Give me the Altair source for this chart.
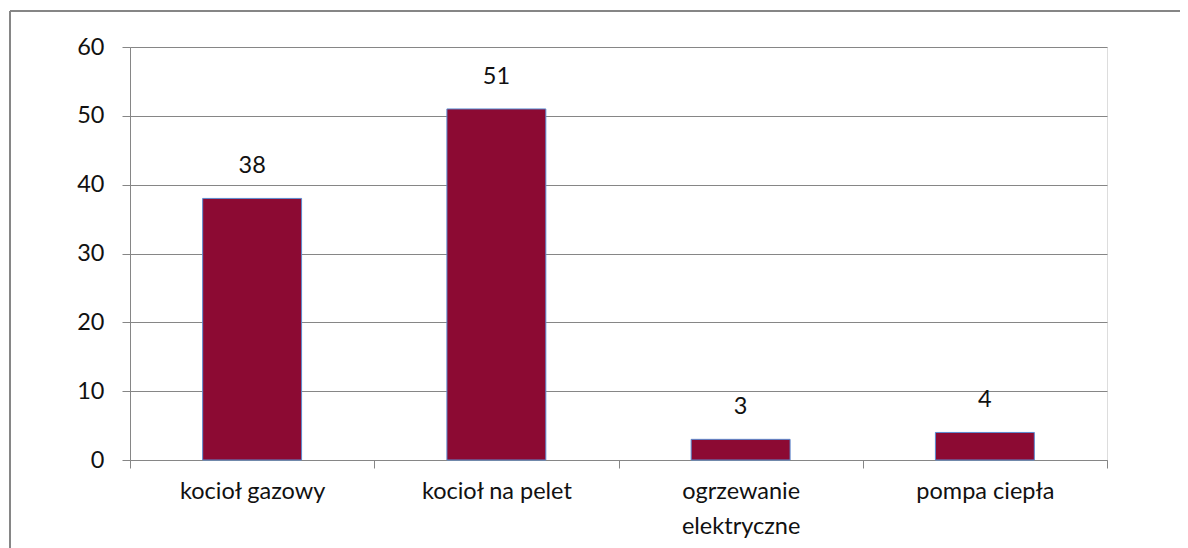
import altair as alt
import pandas as pd

categories = ["kocioł gazowy", "kocioł na pelet", "ogrzewanie\nelektryczne", "pompa ciepła"]
values = [38, 51, 3, 4]
y_ticks = [0, 10, 20, 30, 40, 50, 60]

df = pd.DataFrame({"cat": categories, "val": values})

FONT = "Lato"
GRAY = "#868686"
TXT = "#111111"
FS = 23.5

x_enc = alt.X("cat:N", sort=categories, title=None,
              scale=alt.Scale(paddingInner=0, paddingOuter=0),
              axis=alt.Axis(labelExpr="split(datum.label, '\\n')", labelAngle=0,
                            tickBand="extent", tickSize=8, tickColor=GRAY,
                            domainColor=GRAY, labelFont=FONT, labelFontSize=FS,
                            labelColor=TXT, labelPadding=11,
                            labelLineHeight=35, grid=False))
y_enc = alt.Y("val:Q", title=None,
              scale=alt.Scale(domain=[0, 60], nice=False),
              axis=alt.Axis(values=y_ticks, tickSize=8, tickColor=GRAY,
                            domainColor=GRAY, gridColor=GRAY, gridOpacity=1,
                            labelFont=FONT, labelFontSize=FS, labelColor=TXT,
                            labelPadding=18))

bars = alt.Chart(df).mark_bar(color="#8C0A33", stroke="#5B8BD0", strokeWidth=1,
                              width=alt.RelativeBandSize(0.405)).encode(x=x_enc, y=y_enc)

labels = alt.Chart(df).mark_text(font=FONT, fontSize=FS, color=TXT,
                                 baseline="alphabetic", dy=-25).encode(
    x=alt.X("cat:N", sort=categories), y="val:Q", text="val:Q")

frame_top = alt.Chart(df).mark_rule(color=GRAY, strokeWidth=1.5, clip=False).encode(
    x=alt.value(-120), x2=alt.value(1200), y=alt.value(-36))
frame_left = alt.Chart(df).mark_rule(color=GRAY, strokeWidth=1.5, clip=False).encode(
    x=alt.value(-120), y=alt.value(-36), y2=alt.value(600))

chart = alt.layer(bars, labels, frame_top, frame_left).properties(
    width=977, height=413,
    autosize=alt.AutoSizeParams(type="none"),
    padding={"left": 122, "top": 39, "right": 73, "bottom": 88},
).configure_view(stroke=None).configure(background="white")

chart.save("out.html", embed_options={"renderer": "svg", "actions": False})
